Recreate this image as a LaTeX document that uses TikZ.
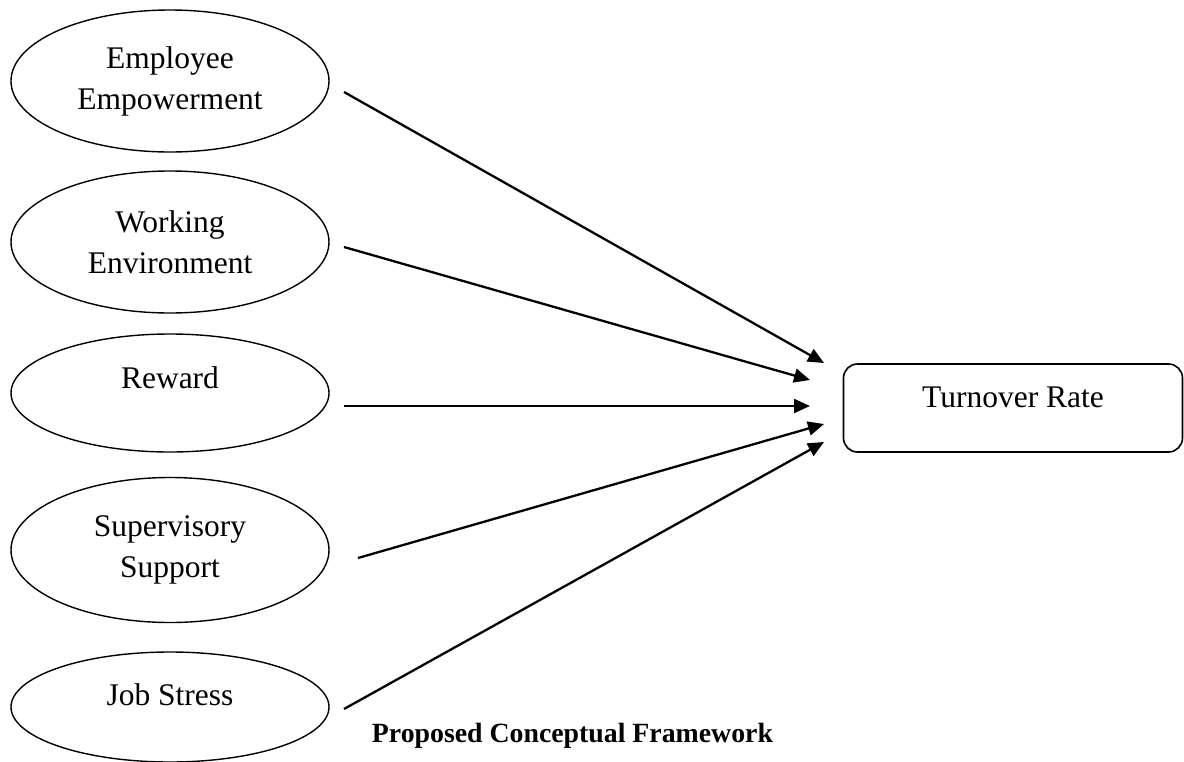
\documentclass[tikz,border=0pt]{standalone}
\usepackage{fontspec}
\setmainfont{Liberation Serif}
\usetikzlibrary{shapes.geometric,arrows.meta}

\begin{document}
\begin{tikzpicture}[x=1pt,y=-1pt,
  oval/.style={draw, ellipse, line width=1.4pt, inner sep=0pt,
    minimum width=318pt, align=center,
    font=\fontsize{31.5}{41}\selectfont},
  outcome/.style={draw, rounded corners=14pt, line width=1.6pt,
    inner sep=0pt, minimum width=339pt, minimum height=88pt,
    font=\fontsize{31.5}{41}\selectfont},
  link/.style={line width=2.3pt, -{Triangle[length=16pt,width=14pt]}},
  caption/.style={font=\fontsize{27.8}{33}\selectfont\bfseries, inner sep=0pt}
]
\useasboundingbox (0,0) rectangle (1184,761);

% factors
\node[oval, minimum height=142pt] (emp) at (170,81) {Employee\\Empowerment};
\node[oval, minimum height=142pt] (env) at (170,242) {Working\\Environment};
\node[oval, minimum height=118pt, text height=22pt, text depth=32pt] (rew) at (170,393) {Reward};
\node[oval, minimum height=145pt] (sup) at (170,550) {Supervisory\\Support};
\node[oval, minimum height=110pt, text height=22pt, text depth=26pt] (job) at (170,707) {Job Stress};

% outcome
\node[outcome, text height=22pt, text depth=24pt] (turn) at (1013,408) {Turnover Rate};

% arrow ends
\coordinate (s1) at (344,92);
\coordinate (s2) at (344,247);
\coordinate (s3) at (344,406);
\coordinate (s4) at (358,558);
\coordinate (s5) at (344,709);
\coordinate (t1) at (824,363);
\coordinate (t2) at (810,380);
\coordinate (t3) at (810,406);
\coordinate (t4) at (824,424);
\coordinate (t5) at (824,442);

\draw[link] (s1) -- (t1);
\draw[link] (s2) -- (t2);
\draw[link] (s3) -- (t3);
\draw[link] (s4) -- (t4);
\draw[link] (s5) -- (t5);

\node[caption, anchor=base] (title) at (572.5,742) {Proposed Conceptual Framework};
\end{tikzpicture}
\end{document}
